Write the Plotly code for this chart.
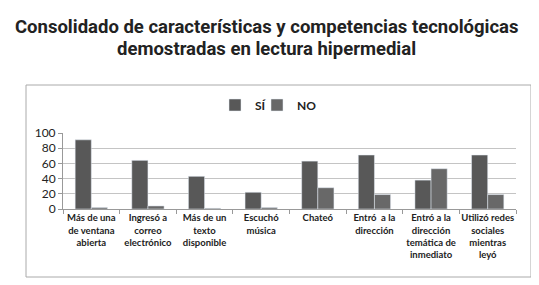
import plotly.graph_objects as go

categories = [
    "Más de una<br>de ventana<br>abierta",
    "Ingresó a<br>correo<br>electrónico",
    "Más de un<br>texto<br>disponible",
    "Escuchó<br>música",
    "Chateó",
    "Entró  a la<br>dirección",
    "Entró a la<br>dirección<br>temática de<br>inmediato",
    "Utilizó redes<br>sociales<br>mientras<br>leyó",
]
si_values = [91, 64, 43, 22, 63, 71, 38, 71]
no_values = [2, 4, 1, 2, 28, 19, 53, 19]
y_ticks = [0, 20, 40, 60, 80, 100]

title_lines = ["Consolidado de características y competencias tecnológicas",
               "demostradas en lectura hipermedial"]

W, H = 539, 285
L, R, T, B = 55, 508, 125, 201  # plot area in px

def px_x(px):
    return (px - L) / (R - L)

def px_y(py):
    return (B - py) / (B - T)

fig = go.Figure()
fig.add_trace(go.Bar(x=categories, y=si_values, name="SÍ", marker_color="#585858", legend="legend2"))
fig.add_trace(go.Bar(x=categories, y=no_values, name="NO", marker_color="#686868", legend="legend3"))

legend_font = dict(family="Lato, Calibri, sans-serif", size=12, color="#222222", weight="bold")
fig.update_layout(
    width=W, height=H,
    margin=dict(l=L, r=W - R, t=T, b=H - B),
    paper_bgcolor="white", plot_bgcolor="white",
    barmode="group", bargap=0.43, bargroupgap=0,
    legend2=dict(orientation="h", x=px_x(207), y=px_y(97), xanchor="left", yanchor="middle",
                 font=legend_font, bgcolor="rgba(0,0,0,0)", itemwidth=30),
    legend3=dict(orientation="h", x=px_x(249), y=px_y(97), xanchor="left", yanchor="middle",
                 font=legend_font, bgcolor="rgba(0,0,0,0)", itemwidth=30),
    font=dict(family="Lato, Calibri, sans-serif", color="#222222"),
)
for i, (line, yc) in enumerate(zip(title_lines, [19, 41])):
    fig.add_annotation(text=line, xref="paper", yref="paper",
                       x=px_x(258), y=px_y(yc), xanchor="center", yanchor="middle",
                       showarrow=False,
                       font=dict(family="Roboto, sans-serif", size=18.5, color="#222222", weight="bold"))
fig.update_xaxes(
    type="category", showline=True, linecolor="#999999", linewidth=1,
    ticks="outside", tickson="boundaries", ticklen=4, tickcolor="#999999",
    tickangle=0,
    tickfont=dict(size=9.5, family="Lato, Calibri, sans-serif", color="#222222", weight="bold"),
    showgrid=False,
)
fig.update_yaxes(
    range=[0, 100], tickvals=y_ticks, showgrid=True, gridcolor="#c4c4c4", gridwidth=1,
    showline=True, linecolor="#999999", linewidth=1,
    ticks="outside", ticklen=4, tickcolor="#999999",
    tickfont=dict(size=12, family="Lato, Calibri, sans-serif", color="#222222"),
    zeroline=False,
)
fig.add_shape(type="rect", xref="paper", yref="paper",
              x0=px_x(18), x1=px_x(523), y0=px_y(269), y1=px_y(77),
              line=dict(color="#aaaaaa", width=1), layer="below")

fig.write_html("out.html")
